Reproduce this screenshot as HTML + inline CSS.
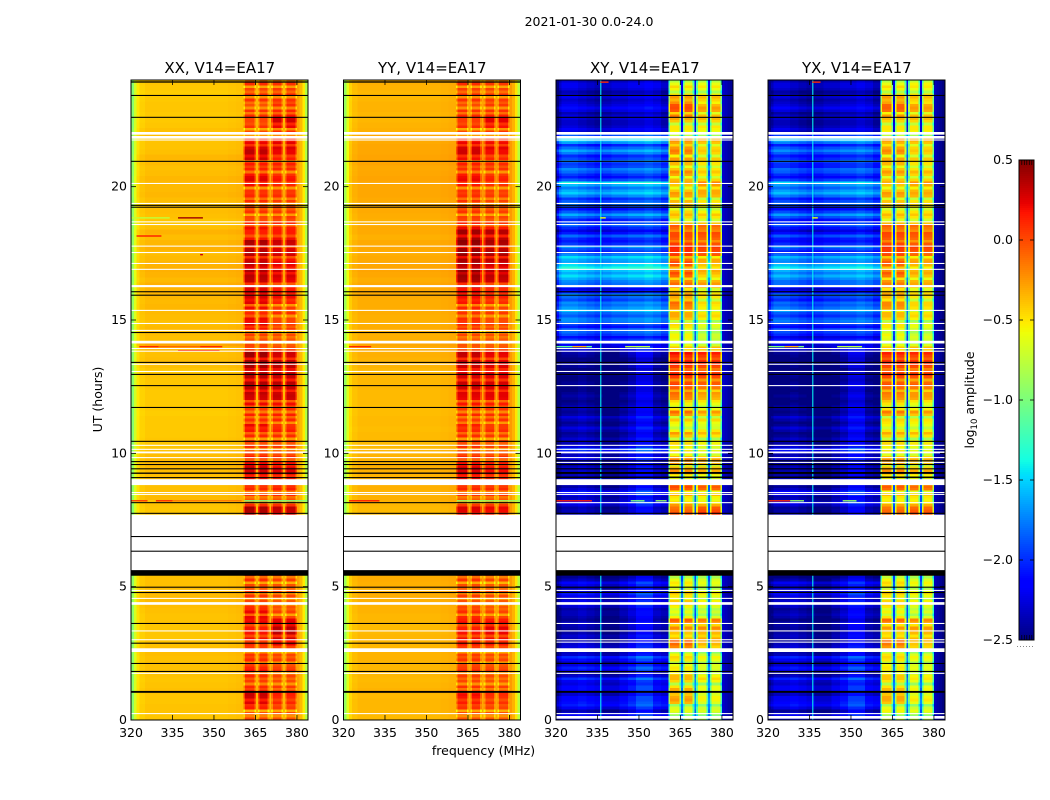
<!DOCTYPE html>
<html lang="en">
<head>
<meta charset="utf-8">
<title>2021-01-30 0.0-24.0</title>
<style>
html,body{margin:0;padding:0;background:#fff;}
svg{display:block;font-family:"DejaVu Sans","Liberation Sans",sans-serif;fill:#000;}
</style>
</head>
<body>
<svg id="chart" xmlns="http://www.w3.org/2000/svg" width="1050" height="800" viewBox="0 0 1050 800">
<text x="589" y="26" font-size="12.5" text-anchor="middle">2021-01-30 0.0-24.0</text>
<text x="483.5" y="755" font-size="12.5" text-anchor="middle">frequency (MHz)</text>
<text transform="translate(102 399.5) rotate(-90)" font-size="12.5" text-anchor="middle">UT (hours)</text>
<text transform="translate(974 400) rotate(-90)" font-size="12.5" text-anchor="middle">log<tspan font-size="8.5" dy="3">10</tspan><tspan dy="-3"> amplitude</tspan></text>
</svg>
<script>
// Frequency bands (MHz) and which row series drives each band: 0 background, 1 blocks A, 2 blocks B, 3 band edge
const bandEdges = [320,321,322,323,325,328,331,334,337,340,343,346,349,352,355,358,360.6,361.2,364.6,365.2,365.9,366.5,369.4,370,370.7,371.3,374.4,375,375.7,376.3,379.4,380,381,382,383,384];
const bandSource = [0,0,0,0,0,0,0,0,0,0,0,0,0,0,0,0,1,1,1,0,1,1,1,0,2,2,2,0,2,2,2,3,3,3,3];
const parallelProfile = [-.55,-.28,-.1,-.03,0,0,0,0,0,0,0,0,0,0,.01,.02,-.28,0,-.25,.05,-.25,0,-.25,.05,-.25,0,-.25,.05,-.25,0,-.28,.1,.02,-.14,-.42];
const crossProfileEarly = [-.3,-.2,-.1,-.1,-.1,-.05,-.1,-.15,-.2,-.2,-.1,0,.15,.15,-.05,-.1,-.55,0,-.5,.35,-.5,0,-.5,.35,-.5,0,-.55,.35,-.5,0,-.6,.05,0,-.05,-.1];
const crossProfileLate = [-.25,-.05,.05,.05,.05,0,-.05,-.1,-.05,0,0,.05,.05,.1,.05,-.05,-.55,0,-.5,.1,-.5,0,-.5,.1,-.5,0,-.55,.1,-.5,0,-.6,.05,0,-.05,-.1];
const rowHours = 0.2;

// Each series: log10 amplitude per 0.2 h row, one line per 2 h from 0 UT
const xxBack = [
-.40,-.39,-.39,-.40,-.40,-.38,-.39,-.40,-.39,-.38,
-.38,-.38,-.37,-.38,-.39,-.40,-.40,-.40,-.39,-.39,
-.38,-.37,-.36,-.36,-.37,-.38,-.38,-.38,null,null,
null,null,null,null,null,null,null,null,-.40,-.40,
-.39,-.36,-.37,-.38,-.37,-.38,-.37,-.36,-.36,-.37,
-.39,-.40,-.40,-.41,-.41,-.41,-.41,-.42,-.41,-.41,
-.41,-.41,-.40,-.40,-.39,-.40,-.38,-.37,-.38,-.36,
-.30,-.38,-.37,-.36,-.38,-.37,-.36,-.35,-.36,-.35,
-.34,-.33,-.36,-.34,-.33,-.34,-.36,-.37,-.33,-.35,
-.37,-.34,-.38,-.40,-.38,-.37,-.39,-.37,-.35,-.36,
-.36,-.35,-.37,-.38,-.36,-.35,-.38,-.39,-.39,-.37,
-.38,-.40,-.41,-.41,-.40,-.40,-.41,-.42,-.41,-.40];
const xxBlocksA = [
.02,-.02,.15,.25,.30,.28,.12,.05,.12,.18,
.05,.12,.08,.10,.10,.20,.18,.15,.25,.22,
.22,.10,.02,.08,.05,.02,.10,.14,null,null,
null,null,null,null,null,null,null,null,.36,.38,
.1,-.05,.08,.12,.1,.2,.28,.33,.2,.15,
.02,.08,.05,.12,.18,.22,.1,.15,.05,.22,
.28,.34,.36,.38,.36,.34,.40,.38,.42,.10,
.02,.0,.04,.18,.25,.22,.12,.2,.25,.28,
.3,.28,.32,.36,.38,.32,.3,.36,.34,.38,
.18,.14,.2,.1,.02,.08,.05,.1,.12,.08,
.2,.26,.18,.14,.16,.3,.34,.28,.22,.05,
.0,.08,.02,.1,.08,-.02,.08,.1,.02,.1];
const xxBlocksB = [
-.02,.0,.05,.12,.12,.15,.06,.0,.02,.08,
-.02,.05,.02,.08,.22,.3,.34,.36,.28,.02,
.04,-.02,-.05,.02,.0,-.02,.04,.08,null,null,
null,null,null,null,null,null,null,null,.28,.32,
.08,-.02,.12,.14,.08,.15,.25,.22,.18,.1,
-.02,.05,.05,.1,.15,.08,.12,.15,.1,.2,
.3,.3,.32,.36,.32,.3,.34,.3,.28,.1,
-.05,-.02,.0,.05,.06,.02,.1,.05,.14,.2,
.2,.16,.22,.28,.3,.22,.18,.28,.26,.3,
.2,.16,.14,.1,.05,.06,.02,.05,.1,.06,
.12,.18,.08,.12,.14,.15,.22,.26,.24,.1,
.1,.22,.3,.18,.12,.1,.08,.12,.05,.08];
const yyBack = [
-.36,-.35,-.35,-.35,-.36,-.34,-.35,-.36,-.35,-.35,
-.35,-.34,-.34,-.35,-.35,-.35,-.36,-.36,-.35,-.35,
-.34,-.34,-.33,-.32,-.33,-.33,-.32,-.33,null,null,
null,null,null,null,null,null,null,null,-.36,-.36,
-.35,-.33,-.34,-.33,-.33,-.34,-.33,-.33,-.34,-.34,
-.35,-.36,-.36,-.36,-.37,-.36,-.36,-.37,-.37,-.36,
-.36,-.36,-.35,-.35,-.35,-.35,-.34,-.34,-.33,-.32,
-.30,-.33,-.33,-.32,-.33,-.33,-.32,-.32,-.32,-.31,
-.30,-.30,-.32,-.30,-.29,-.30,-.31,-.32,-.30,-.31,
-.33,-.31,-.31,-.33,-.32,-.31,-.32,-.31,-.30,-.30,
-.30,-.29,-.30,-.31,-.29,-.29,-.30,-.30,-.31,-.30,
-.33,-.34,-.35,-.35,-.34,-.34,-.35,-.35,-.34,-.33];
const yyBlocksA = [
-.02,.0,.08,.15,.18,.12,.08,.02,.05,.1,
.02,.08,.05,.1,.15,.2,.18,.14,.2,.12,
.1,.02,-.02,.05,.02,.0,.08,.1,null,null,
null,null,null,null,null,null,null,null,.22,.25,
.05,-.05,.08,.12,.06,.2,.25,.28,.18,.12,
.02,.08,.04,.1,.12,.15,.05,.12,.05,.18,
.22,.26,.3,.32,.28,.26,.3,.3,.32,.05,
-.02,-.04,.02,.08,.12,.1,.08,.12,.18,.2,
.22,.3,.38,.42,.45,.36,.4,.44,.42,.45,
.4,.42,.22,.12,.05,.08,.05,.08,.1,.08,
.16,.22,.16,.1,.14,.2,.3,.28,.22,.04,
.0,.1,.05,.12,.08,.0,.08,.1,.04,.1];
const yyBlocksB = [
-.04,-.02,.02,.08,.08,.1,.04,-.02,.0,.05,
-.04,.02,.0,.05,.15,.2,.22,.24,.2,.02,
.02,-.04,-.06,.0,-.02,-.04,.02,.05,null,null,
null,null,null,null,null,null,null,null,.18,.2,
.05,-.04,.08,.1,.05,.12,.18,.18,.14,.08,
-.04,.02,.02,.06,.1,.05,.08,.1,.06,.15,
.22,.24,.26,.28,.25,.22,.25,.22,.22,.06,
-.06,-.04,-.02,.02,.04,.0,.06,.02,.1,.14,
.14,.2,.3,.34,.36,.28,.34,.38,.34,.38,
.34,.36,.16,.06,.02,.04,.0,.02,.06,.04,
.08,.14,.06,.08,.1,.12,.2,.24,.2,.06,
.06,.18,.24,.14,.08,.06,.05,.08,.02,.06];
const xyBack = [
-2.15,-2.2,-2.1,-2.0,-2.05,-2.15,-2.05,-2.1,-2.2,-2.05,
-2.15,-2.05,-2.2,-2.25,-2.2,-2.25,-2.3,-2.3,-2.25,-2.3,
-2.25,-2.2,-2.15,-2.1,-2.2,-2.15,-2.25,-2.2,null,null,
null,null,null,null,null,null,null,null,-2.3,-2.25,
-2.15,-2.2,-2.1,-2.2,-2.2,-2.2,-2.3,-2.2,-2.25,-2.2,
-2.0,-2.15,-2.25,-2.3,-2.25,-2.3,-2.25,-2.3,-2.3,-2.35,
-2.35,-2.35,-2.4,-2.35,-2.4,-2.4,-2.35,-2.4,-2.35,-2.2,
-2.2,-2.0,-1.95,-1.9,-1.95,-1.75,-1.8,-1.7,-1.75,-1.85,
-2.1,-2.05,-1.75,-1.5,-1.55,-1.5,-1.65,-1.75,-1.9,-2.0,
-2.05,-2.1,-2.05,-1.95,-1.85,-1.9,-1.95,-1.9,-1.75,-1.65,
-1.6,-1.9,-2.0,-1.75,-2.0,-1.95,-1.8,-1.85,-1.7,-1.75,
-2.3,-2.3,-2.35,-2.3,-2.25,-2.25,-2.35,-2.35,-2.3,-2.25];
const xyBlocksA = [
-.75,-.7,-.65,-.35,-.3,-.35,-.5,-.45,-.35,-.55,
-.6,-.5,-.55,-.25,-.1,-.35,-.4,-.2,-.15,-.55,
-.6,-.55,-.4,-.5,-.45,-.55,-.6,-.45,null,null,
null,null,null,null,null,null,null,null,-.05,-.08,
-.25,-.55,-.3,-.05,-.1,-.6,-.3,-.35,-.25,-.35,
-.45,-.55,-.5,-.4,-.55,-.6,-.4,-.25,-.5,-.55,
-.2,-.1,-.05,.0,.05,.1,.05,.15,.1,-.5,
-.6,-.6,-.55,-.6,-.45,-.4,-.3,-.2,-.1,-.3,
-.35,-.2,-.2,-.1,-.15,-.05,-.1,.05,.1,.05,
-.05,.0,-.1,-.35,-.45,-.45,-.4,-.35,-.3,-.4,
-.4,-.35,-.3,-.4,-.35,-.25,-.2,-.25,-.3,-.45,
-.55,-.5,-.4,-.15,-.05,-.02,-.35,-.5,-.55,-.6];
const xyBlocksB = [
-.8,-.75,-.7,-.65,-.55,-.65,-.6,-.55,-.55,-.7,
-.65,-.6,-.7,-.5,-.35,-.3,-.35,-.2,-.25,-.65,
-.7,-.65,-.55,-.6,-.6,-.65,-.65,-.6,null,null,
null,null,null,null,null,null,null,null,.05,.0,
-.3,-.6,-.35,-.1,-.2,-.65,-.4,-.4,-.35,-.45,
-.55,-.65,-.6,-.5,-.5,-.65,-.45,-.4,-.6,-.6,
-.35,-.25,-.15,-.05,.0,.05,.0,.1,.05,-.45,
-.7,-.75,-.7,-.75,-.6,-.55,-.5,-.55,-.45,-.5,
-.55,-.35,-.35,-.45,-.3,-.4,-.3,-.05,.02,-.02,
-.08,.0,-.15,-.4,-.5,-.55,-.55,-.5,-.35,-.3,
-.25,-.45,-.5,-.5,-.5,-.4,-.45,-.45,-.4,-.55,
-.6,-.5,-.45,-.35,-.3,-.35,-.45,-.55,-.6,-.6];
const yxBack = [
-2.2,-2.25,-2.15,-2.05,-2.1,-2.2,-2.1,-2.15,-2.25,-2.1,
-2.2,-2.1,-2.25,-2.3,-2.25,-2.3,-2.3,-2.35,-2.3,-2.3,
-2.3,-2.25,-2.2,-2.15,-2.2,-2.2,-2.3,-2.25,null,null,
null,null,null,null,null,null,null,null,-2.35,-2.3,
-2.2,-2.25,-2.15,-2.25,-2.25,-2.25,-2.35,-2.25,-2.3,-2.25,
-2.1,-2.2,-2.3,-2.35,-2.3,-2.35,-2.3,-2.35,-2.35,-2.4,
-2.4,-2.4,-2.4,-2.4,-2.4,-2.45,-2.4,-2.4,-2.4,-2.25,
-2.25,-2.1,-2.05,-1.95,-2.0,-1.85,-1.9,-1.8,-1.85,-1.95,
-2.15,-2.1,-1.85,-1.6,-1.65,-1.6,-1.75,-1.85,-1.95,-2.05,
-2.1,-2.15,-2.1,-2.0,-1.9,-1.95,-2.0,-1.95,-1.8,-1.7,
-1.7,-1.95,-2.05,-1.85,-2.05,-2.0,-1.9,-1.9,-1.8,-1.85,
-2.35,-2.35,-2.4,-2.35,-2.3,-2.3,-2.4,-2.4,-2.35,-2.3];
const yxBlocksA = [
-.7,-.65,-.6,-.4,-.3,-.4,-.5,-.5,-.4,-.55,
-.55,-.5,-.5,-.3,-.15,-.35,-.45,-.25,-.2,-.5,
-.55,-.5,-.45,-.5,-.5,-.5,-.55,-.5,null,null,
null,null,null,null,null,null,null,null,-.15,-.1,
-.3,-.55,-.35,-.1,-.15,-.55,-.3,-.35,-.3,-.4,
-.45,-.55,-.5,-.45,-.5,-.55,-.45,-.3,-.5,-.5,
-.25,-.15,-.1,-.05,.0,.05,.0,.1,.05,-.5,
-.6,-.65,-.55,-.6,-.5,-.45,-.35,-.25,-.2,-.35,
-.35,-.25,-.25,-.15,-.2,-.1,-.15,.0,.05,.02,
-.05,.02,-.12,-.35,-.45,-.5,-.4,-.4,-.3,-.4,
-.4,-.4,-.35,-.4,-.35,-.3,-.25,-.3,-.35,-.45,
-.55,-.5,-.45,-.25,-.12,-.08,-.35,-.5,-.55,-.6];
const yxBlocksB = [
-.75,-.7,-.7,-.6,-.55,-.6,-.6,-.6,-.55,-.65,
-.65,-.6,-.65,-.5,-.4,-.35,-.35,-.25,-.3,-.65,
-.65,-.65,-.55,-.6,-.6,-.6,-.65,-.55,null,null,
null,null,null,null,null,null,null,null,-.05,-.05,
-.3,-.55,-.4,-.15,-.25,-.6,-.4,-.45,-.4,-.45,
-.55,-.6,-.6,-.5,-.55,-.6,-.5,-.4,-.55,-.6,
-.3,-.25,-.15,-.1,-.02,.02,.0,.08,.02,-.45,
-.65,-.7,-.7,-.7,-.6,-.55,-.5,-.5,-.45,-.5,
-.5,-.4,-.35,-.4,-.35,-.35,-.3,-.1,.0,-.05,
-.1,-.02,-.15,-.4,-.5,-.5,-.5,-.5,-.35,-.35,
-.3,-.45,-.45,-.5,-.5,-.4,-.45,-.45,-.4,-.55,
-.55,-.5,-.45,-.35,-.3,-.3,-.45,-.5,-.6,-.55];

// Fine horizontal striping: change in log10 amplitude over the upper half of each row
const parallelBlockStripes = [
-.2,-.3,-.05,-.1,.02,-.25,-.3,-.1,-.25,-.05,
-.25,-.1,-.3,-.05,-.05,-.2,-.02,-.15,-.05,-.3,
-.1,-.3,-.2,-.25,-.1,-.3,-.2,-.3,0,0,
0,0,0,0,0,0,0,0,-.05,.02,
-.2,-.1,-.25,-.05,-.2,-.05,.02,-.1,-.25,-.1,
-.2,-.1,-.3,-.2,-.05,-.3,-.2,-.3,-.1,-.25,
.02,-.15,.02,-.2,.02,-.1,.02,-.2,.02,-.1,
-.2,-.1,-.3,-.1,-.05,-.25,-.15,-.3,-.05,-.1,
-.05,-.2,.02,-.1,-.15,.02,-.2,.0,-.25,.02,
-.2,.0,-.25,-.1,-.3,-.1,-.25,-.2,-.05,-.3,
-.1,-.02,-.3,-.1,-.25,-.1,.0,-.2,-.1,-.3,
-.3,-.1,.0,-.25,-.3,-.1,-.3,-.2,-.3,-.25];
const crossBlockStripes = [
-.2,.1,-.25,.1,-.1,.05,-.3,.1,-.2,.05,
-.2,.05,-.25,.05,.05,-.15,.05,-.25,.1,-.2,
-.1,.1,-.2,.1,-.25,.05,-.2,.05,0,0,
0,0,0,0,0,0,0,0,.05,-.05,
-.2,.05,-.25,.05,-.3,.05,.1,-.3,.1,-.25,
-.15,.1,-.25,.15,-.2,.05,-.3,.15,-.2,.1,
.05,-.2,.1,-.2,.1,-.2,.1,-.15,.1,.1,
-.2,.05,-.15,.1,-.3,.1,-.2,.05,-.3,.1,
-.15,.1,-.25,.1,-.2,.1,-.25,.05,.05,-.2,
.05,-.2,.1,-.3,.1,-.2,.05,-.25,.05,-.2,
.1,-.25,.1,-.2,.05,-.3,.05,-.2,.1,-.3,
.05,-.25,.1,-.3,.05,-.2,.1,-.3,.1,-.2];
const crossBackStripes = [
.1,-.1,.15,-.05,-.15,.1,-.1,.2,-.15,.1,
-.1,.15,-.05,.1,-.1,.05,-.05,.05,-.1,.05,
-.05,.1,-.1,.15,-.05,.1,-.1,.05,0,0,
0,0,0,0,0,0,0,0,.05,-.05,
.1,-.05,.1,-.1,.05,-.05,.05,-.1,.1,-.05,
.15,-.1,.05,-.05,.1,-.05,.1,-.05,.05,-.05,
.05,-.05,.05,-.05,.05,-.05,.05,-.05,.05,.1,
.2,-.15,.1,-.2,.2,-.15,.2,-.1,-.2,.15,
-.15,.25,.1,-.15,.2,-.2,.15,-.25,.2,-.1,
.2,-.15,.2,-.1,.2,-.2,.15,-.1,.2,-.15,
.2,-.2,.15,-.2,.2,-.1,.15,-.2,.2,-.15,
.1,-.05,.05,-.1,.1,-.05,.1,-.05,.05,-.1];

// Flagged time ranges in UT hours
const parallelWhiteFlags = [[.22,.26],[1.73,1.77],[2.55,2.69],[2.99,3.03],[3.32,3.36],[4.32,4.42],[4.54,4.58],[4.84,4.88],[5.62,7.7],[8.44,8.48],[8.51,8.55],[8.81,9.03],[9.82,9.86],[10.0,10.07],[10.13,10.17],[10.28,10.32],[13.05,13.09],[13.32,13.36],[13.81,13.85],[13.91,13.95],[14.12,14.22],[14.59,14.63],[14.85,14.89],[15.34,15.38],[16.23,16.31],[16.88,16.92],[17.1,17.14],[17.51,17.55],[17.75,17.79],[18.56,18.6],[18.66,18.7],[19.35,19.39],[20.1,20.14],[21.73,21.77],[21.8,21.9],[21.95,22.05]];
const parallelBlackFlags = [[1.02,1.09],[1.8,1.84],[2.1,2.14],[2.86,2.9],[3.6,3.64],[4.76,4.8],[4.96,5.0],[5.41,5.62],[6.31,6.35],[6.86,6.9],[7.73,7.77],[8.13,8.17],[9.07,9.11],[9.23,9.28],[9.4,9.44],[9.56,9.6],[9.67,9.71],[10.43,10.47],[11.7,11.74],[12.52,12.56],[12.94,12.98],[13.39,13.43],[14.51,14.55],[15.91,15.95],[16.04,16.08],[19.21,19.25],[19.28,19.32],[20.93,20.97],[22.58,22.62],[23.4,23.44],[23.9,23.95]];
const crossWhiteFlags = [[.05,.15],[.22,.26],[1.73,1.77],[2.55,2.69],[2.9,2.94],[2.99,3.03],[3.32,3.36],[3.6,3.64],[4.32,4.42],[4.54,4.58],[4.84,4.88],[5.62,7.7],[8.13,8.17],[8.44,8.48],[8.51,8.55],[8.81,9.03],[9.64,9.68],[9.82,9.86],[10.0,10.07],[10.13,10.17],[10.28,10.32],[12.52,12.56],[13.05,13.09],[13.32,13.36],[13.81,13.85],[13.91,13.95],[14.12,14.22],[14.59,14.63],[14.85,14.89],[15.34,15.38],[16.23,16.31],[16.88,16.92],[17.1,17.14],[17.51,17.55],[17.75,17.79],[18.56,18.6],[18.66,18.7],[19.35,19.39],[20.1,20.14],[21.73,21.77],[21.8,21.9],[21.95,22.05]];
const crossBlackFlags = [[1.02,1.09],[1.8,1.84],[2.1,2.14],[4.76,4.8],[4.96,5.0],[5.41,5.62],[6.31,6.35],[6.86,6.9],[7.73,7.77],[9.07,9.13],[9.23,9.3],[9.4,9.44],[9.56,9.6],[9.7,9.74],[10.43,10.47],[11.7,11.74],[12.94,12.98],[13.39,13.43],[15.91,15.95],[16.04,16.08],[19.21,19.25],[19.28,19.32],[20.93,20.97],[22.58,22.62],[23.4,23.44]];

// Short interference streaks: UT hour, start MHz, end MHz, log10 amplitude
const xxStreaks = [[8.22,320,326,.05],[8.22,326,329,-.4],[8.22,329,335,.1],[8.22,335,360,-.15],[8.22,361,384,-1.0],[14.0,323,330,.1],[14.0,330,345,-.1],[14.0,345,353,.1],[13.85,337,352,.1],[18.83,337,346,.42],[18.83,320,334,-.75],[18.15,322,331,.15],[17.45,345,346,.3]];
const yyStreaks = [[8.22,322,333,.15],[8.22,361,384,-.9],[14.0,322,330,.1]];
const xyStreaks = [[8.22,320,333,.15],[8.22,347,352,-1.0],[8.22,356,360,-.9],[14.0,320,326,-1.1],[14.0,326,331,-.3],[14.0,331,333,-1.1],[14.0,345,354,-.8],[23.92,336,339,.1],[18.83,336,338,-.6]];
const yxStreaks = [[8.22,320,328,.1],[8.22,328,333,-.9],[8.22,347,352,-.9],[14.0,320,326,-1.0],[14.0,326,331,-.3],[14.0,331,333,-1.0],[14.0,345,354,-.8],[23.92,336,339,.1],[18.83,336,338,-.6]];

const interferenceChannels = [336];
const interferenceLevels = [-1.42];

const xTickLabels = [320,335,350,365,380];
const yTickLabels = [0,5,10,15,20];
const colorbarTickLabels = [0.5,0.0,-0.5,-1.0,-1.5,-2.0,-2.5];

const panelTitles = ['XX, V14=EA17','YY, V14=EA17','XY, V14=EA17','YX, V14=EA17'];
const panelKeys = ['xx','yy','xy','yx'];
const panelOrigins = [131,343.5,556,768];
const plotTop = 80, plotBottom = 720, plotWidth = 177;
const freqMin = 320, freqMax = 384, hourMax = 24;
const colorMin = -2.5, colorMax = 0.5;

const panelSeries = [
  {back:xxBack,a:xxBlocksA,b:xxBlocksB,edge:-.38,early:parallelProfile,late:parallelProfile,white:parallelWhiteFlags,black:parallelBlackFlags,streaks:xxStreaks,cross:false,blockStripes:parallelBlockStripes,backStripes:null},
  {back:yyBack,a:yyBlocksA,b:yyBlocksB,edge:-.36,early:parallelProfile,late:parallelProfile,white:parallelWhiteFlags,black:parallelBlackFlags,streaks:yyStreaks,cross:false,blockStripes:parallelBlockStripes,backStripes:null},
  {back:xyBack,a:xyBlocksA,b:xyBlocksB,edge:-2.35,early:crossProfileEarly,late:crossProfileLate,white:crossWhiteFlags,black:crossBlackFlags,streaks:xyStreaks,cross:true,blockStripes:crossBlockStripes,backStripes:crossBackStripes},
  {back:yxBack,a:yxBlocksA,b:yxBlocksB,edge:-2.4,early:crossProfileEarly,late:crossProfileLate,white:crossWhiteFlags,black:crossBlackFlags,streaks:yxStreaks,cross:true,blockStripes:crossBlockStripes,backStripes:crossBackStripes}
];

const NS = 'http://www.w3.org/2000/svg';
const chart = document.getElementById('chart');

function yScale(h){ return plotBottom - h*(plotBottom-plotTop)/hourMax; }
function xScale(origin,f){ return origin + (f-freqMin)*plotWidth/(freqMax-freqMin); }

function lerpStops(t,stops){
  if(t<=stops[0][0]) return stops[0][1];
  for(let i=1;i<stops.length;i++){
    if(t<=stops[i][0]){
      const p=(t-stops[i-1][0])/(stops[i][0]-stops[i-1][0]);
      return stops[i-1][1]+p*(stops[i][1]-stops[i-1][1]);
    }
  }
  return stops[stops.length-1][1];
}
const jetR=[[.35,0],[.66,1],[.89,1],[1,.5]];
const jetG=[[.125,0],[.375,1],[.64,1],[.91,0]];
const jetB=[[0,.5],[.11,1],[.34,1],[.65,0]];
function jet(v){
  const t=Math.max(0,Math.min(1,(v-colorMin)/(colorMax-colorMin)));
  return 'rgb('+Math.round(255*lerpStops(t,jetR))+','+Math.round(255*lerpStops(t,jetG))+','+Math.round(255*lerpStops(t,jetB))+')';
}

function svgEl(tag,parent){
  const el=document.createElementNS(NS,tag);
  parent.appendChild(el);
  return el;
}
function setAttrs(el,pairs){
  for(const k in pairs) el.setAttribute(k,pairs[k]);
}
function addCell(parent,x0,x1,y0,y1,value){
  const cell=svgEl('rect',parent);
  
  
  setAttrs(cell,{x:x0.toFixed(2),y:y0.toFixed(2),width:(x1-x0).toFixed(2),height:(y1-y0).toFixed(2),fill:jet(value)});
}

function drawPanel(index){
  const origin=panelOrigins[index];
  const s=panelSeries[index];
  const key=panelKeys[index];
  const g=svgEl('g',chart);
  
  

  const cells=svgEl('g',g);
  
  
  cells.setAttribute('shape-rendering','crispEdges');
  const rowCount=s.back.length;
  for(let r=0;r<rowCount;r++){
    if(s.back[r]===null) continue;
    const hour=r*rowHours;
    const profile=hour<14?s.early:s.late;
    const yTop=yScale(hour+rowHours), yBase=yScale(hour), yMid=(yTop+yBase)/2;
    for(let b=0;b<bandSource.length;b++){
      const src=bandSource[b];
      const base=src===0?s.back[r]:src===1?s.a[r]:src===2?s.b[r]:s.edge;
      const v=base+profile[b];
      const x0=xScale(origin,bandEdges[b]), x1=xScale(origin,bandEdges[b+1]);
      let stripe=0;
      if(src===1||src===2) stripe=s.blockStripes[r];
      else if(src===0&&b<16&&s.backStripes) stripe=s.backStripes[r];
      if(stripe===0){
        addCell(cells,x0,x1,yTop,yBase,v);
      }else{
        addCell(cells,x0,x1,yMid,yBase,v);
        addCell(cells,x0,x1,yTop,yMid,v+stripe);
      }
    }
  }

  if(s.cross){
    interferenceChannels.forEach(function(f,i){
      const line=svgEl('rect',g);
      
      
      setAttrs(line,{x:xScale(origin,f).toFixed(2),y:plotTop,width:1.1,height:plotBottom-plotTop,fill:jet(interferenceLevels[i])});
    });
  }

  s.streaks.forEach(function(st){
    const streak=svgEl('rect',g);
    
    
    setAttrs(streak,{x:xScale(origin,st[1]).toFixed(2),y:(yScale(st[0])-0.7).toFixed(2),width:(xScale(origin,st[2])-xScale(origin,st[1])).toFixed(2),height:1.4,fill:jet(st[3])});
  });

  s.white.forEach(function(fl){
    const band=svgEl('rect',g);
    
    
    setAttrs(band,{x:origin,y:yScale(fl[1]).toFixed(2),width:plotWidth,height:(yScale(fl[0])-yScale(fl[1])).toFixed(2),fill:'#fff'});
  });
  s.black.forEach(function(fl){
    const band=svgEl('rect',g);
    
    
    setAttrs(band,{x:origin,y:yScale(fl[1]).toFixed(2),width:plotWidth,height:(yScale(fl[0])-yScale(fl[1])).toFixed(2),fill:'#000'});
  });

  const frame=svgEl('rect',g);
  
  
  setAttrs(frame,{x:origin,y:plotTop,width:plotWidth,height:plotBottom-plotTop,fill:'none',stroke:'#000','stroke-width':1});

  xTickLabels.forEach(function(t){
    const x=xScale(origin,t);
    [[plotBottom,plotBottom-5],[plotTop,plotTop+5]].forEach(function(p){
      const tick=svgEl('line',g);
      
      
      setAttrs(tick,{x1:x,x2:x,y1:p[0],y2:p[1],stroke:'#000','stroke-width':0.8});
    });
    const label=svgEl('text',g);
    
    
    setAttrs(label,{x:x,y:737,'font-size':12.5,'text-anchor':'middle'});
    label.textContent=String(t);
  });
  yTickLabels.forEach(function(t){
    const y=yScale(t);
    [[origin,origin+5],[origin+plotWidth,origin+plotWidth-5]].forEach(function(p){
      const tick=svgEl('line',g);
      
      
      setAttrs(tick,{x1:p[0],x2:p[1],y1:y,y2:y,stroke:'#000','stroke-width':0.8});
    });
    const label=svgEl('text',g);
    
    
    setAttrs(label,{x:origin-4,y:y+4,'font-size':12.5,'text-anchor':'end'});
    label.textContent=String(t);
  });

  const title=svgEl('text',g);
  
  
  setAttrs(title,{x:origin+plotWidth/2+0.3,y:73,'font-size':15,'text-anchor':'middle'});
  title.textContent=panelTitles[index];
}
panelTitles.forEach(function(_,i){ drawPanel(i); });

// Colorbar
const cbX=1019, cbW=15, cbTop=160, cbBottom=640;
function cbY(v){ return cbTop+(colorMax-v)*(cbBottom-cbTop)/(colorMax-colorMin); }
const cb=svgEl('g',chart);


const ramp=svgEl('g',cb);


ramp.setAttribute('shape-rendering','crispEdges');
for(let py=cbTop;py<cbBottom;py+=2){
  const swatch=svgEl('rect',ramp);
  
  
  const v=colorMax-(py+1-cbTop)*(colorMax-colorMin)/(cbBottom-cbTop);
  setAttrs(swatch,{x:cbX,y:py,width:cbW,height:2,fill:jet(v)});
}
const cbFrame=svgEl('rect',cb);


setAttrs(cbFrame,{x:cbX,y:cbTop,width:cbW,height:cbBottom-cbTop,fill:'none',stroke:'#000','stroke-width':1});
colorbarTickLabels.forEach(function(v){
  const y=cbY(v);
  [[cbX,cbX+4],[cbX+cbW,cbX+cbW-4]].forEach(function(p){
    const tick=svgEl('line',cb);
    
    
    setAttrs(tick,{x1:p[0],x2:p[1],y1:y,y2:y,stroke:'#000','stroke-width':0.8});
  });
  const label=svgEl('text',cb);
  
  
  setAttrs(label,{x:1013,y:y+4,'font-size':12.5,'text-anchor':'end'});
  label.textContent=(v<0?'\u2212':'')+Math.abs(v).toFixed(1);
});
for(let c=0;c<5;c++){
  [[cbTop,cbTop+5],[cbBottom,cbBottom-5]].forEach(function(p){
    const comb=svgEl('line',cb);
    
    
    setAttrs(comb,{x1:cbX+2.8+c*2.5,x2:cbX+2.8+c*2.5,y1:p[0],y2:p[1],stroke:'#000','stroke-width':0.7});
  });
}
const dots=svgEl('line',cb);


setAttrs(dots,{x1:1017,x2:1035,y1:646.5,y2:646.5,stroke:'#888','stroke-width':1,'stroke-dasharray':'1 2'});
</script>
</body>
</html>
